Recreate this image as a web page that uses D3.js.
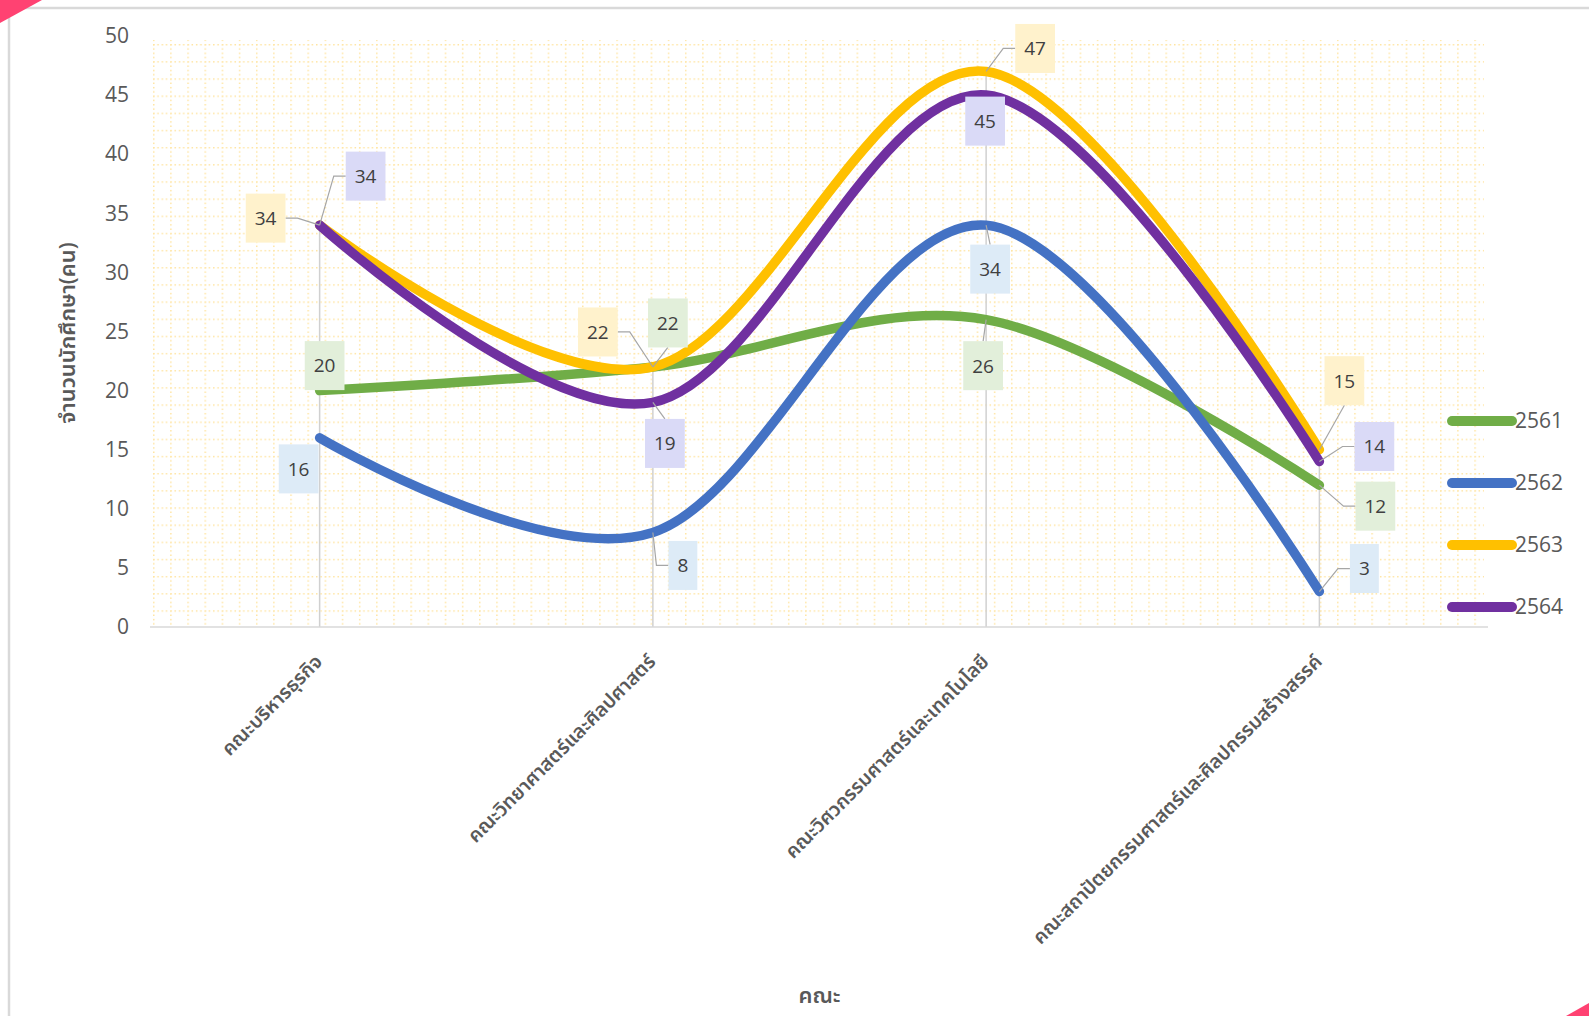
<!DOCTYPE html>
<html>
<head>
<meta charset="utf-8">
<script src="https://cdn.jsdelivr.net/npm/d3@7"></script>
<style>
  html, body { margin: 0; padding: 0; background: #fff; }
  svg { display: block; }
  text { font-family: 'Open Sans', 'Noto Sans', 'Noto Sans Thai', 'DejaVu Sans', sans-serif; }
</style>
</head>
<body>
<svg id="chart" width="1589" height="1016"></svg>
<script>
// ---------- data ----------
const categories = [
  "คณะบริหารธุรกิจ",
  "คณะวิทยาศาสตร์และศิลปศาสตร์",
  "คณะวิศวกรรมศาสตร์และเทคโนโลยี",
  "คณะสถาปัตยกรรมศาสตร์และศิลปกรรมสร้างสรรค์"
];
const seriesNames = ["2561", "2562", "2563", "2564"];
const values2561 = [20, 22, 26, 12];
const values2562 = [16, 8, 34, 3];
const values2563 = [34, 22, 47, 15];
const values2564 = [34, 19, 45, 14];
const yTicks = [0, 5, 10, 15, 20, 25, 30, 35, 40, 45, 50];
const yTitle = "จำนวนนักศึกษา(คน)";
const xTitle = "คณะ";

// ---------- styles / layout ----------
const seriesColors = ["#70AD47", "#4472C4", "#FFC000", "#7030A0"];
const labelFills = ["#E2EFDA", "#DDEBF7", "#FFF2CC", "#DADAF7"];
// data-label box centre offsets (px) relative to each point
const labelOffsets = [
  [[5, -25], [15, -44], [-3, 46], [56, 21]],
  [[-21, 31], [30, 33], [4, 44], [45, -23]],
  [[-54, -7], [-55, -35], [49, -23], [25, -69]],
  [[46, -49], [12, 41], [-1, 26], [55, -15]]
];

const seriesValues = [values2561, values2562, values2563, values2564];
const series = seriesNames.map((n, i) => ({
  name: n, color: seriesColors[i], fill: labelFills[i], offs: labelOffsets[i],
  values: seriesValues[i]
}));

const svg = d3.select("#chart");
const plot = { left: 153, right: 1486, top: 36, bottom: 627 };

const x = d3.scaleBand().domain(categories).range([plot.left, plot.right]);
const cx = c => x(c) + x.bandwidth() / 2;
const y = d3.scaleLinear().domain([0, 50]).range([plot.bottom, plot.top]);

// background
svg.append("rect").attr("width", 1589).attr("height", 1016).attr("fill", "#fff");

// outer frame
svg.append("rect").attr("x", 9).attr("y", 8).attr("width", 1700).attr("height", 1200)
  .attr("fill", "none").attr("stroke", "#d9d9d9").attr("stroke-width", 2.5);

// corner decorations
svg.append("path").attr("d", "M0,0 L42,0 L0,23 Z").attr("fill", "#FF4272");
svg.append("path").attr("d", "M1589,1003 L1589,1016 L1566,1016 Z").attr("fill", "#FF4272");

// dotted grid pattern fill of plot area
const defs = svg.append("defs");
const T = 17.16;
const pat = defs.append("pattern").attr("id", "dotgrid")
  .attr("patternUnits", "userSpaceOnUse")
  .attr("x", 153).attr("y", 44).attr("width", T).attr("height", T);
pat.append("line").attr("x1", 0).attr("y1", 0.75).attr("x2", T).attr("y2", 0.75)
  .attr("stroke", "#FFE4A0").attr("stroke-width", 1.5).attr("stroke-dasharray", "1.5 2.79");
pat.append("line").attr("x1", 0.75).attr("y1", 0).attr("x2", 0.75).attr("y2", T)
  .attr("stroke", "#FFE4A0").attr("stroke-width", 1.5).attr("stroke-dasharray", "1.5 2.79");
svg.append("rect").attr("x", 151).attr("y", 40).attr("width", 1484 - 151).attr("height", plot.bottom - 40)
  .attr("fill", "url(#dotgrid)");

// y axis (labels only)
const yAxis = d3.axisLeft(y).tickValues(yTicks).tickSize(0).tickPadding(24);
const gy = svg.append("g").attr("transform", `translate(${plot.left},0)`).call(yAxis);
gy.select(".domain").remove();
gy.selectAll("text").attr("fill", "#595959").style("font-size", "21px")
  .style("font-family", "'Open Sans','Noto Sans',sans-serif");

// drop lines (from highest point to axis)
svg.append("g").selectAll("line").data(categories).join("line")
  .attr("x1", d => cx(d)).attr("x2", d => cx(d))
  .attr("y1", (d, i) => y(d3.max(series, s => s.values[i])))
  .attr("y2", plot.bottom)
  .attr("stroke", "#d0d0d0").attr("stroke-width", 1.5);

// x axis line
svg.append("line").attr("x1", 150).attr("x2", 1488).attr("y1", plot.bottom).attr("y2", plot.bottom)
  .attr("stroke", "#d9d9d9").attr("stroke-width", 1.5);

// x axis labels
const xAxis = d3.axisBottom(x).tickSize(0);
const gx = svg.append("g").attr("transform", `translate(0,${plot.bottom})`).call(xAxis);
gx.select(".domain").remove();
gx.selectAll("text")
  .attr("x", 0).attr("y", 0).attr("dy", "0.35em")
  .attr("text-anchor", "end")
  .attr("transform", "translate(-1,31) rotate(-45)")
  .attr("fill", "#5a5a5a").style("font-size", "19.5px").style("font-weight", "600");

// axis titles
svg.append("text").attr("transform", "translate(67,333) rotate(-90)")
  .attr("text-anchor", "middle").attr("dy", "0.35em")
  .attr("fill", "#595959").style("font-size", "22px").style("font-weight", "600")
  .text(yTitle);
svg.append("text").attr("x", (plot.left + plot.right) / 2).attr("y", 995)
  .attr("text-anchor", "middle").attr("dy", "0.35em")
  .attr("fill", "#595959").style("font-size", "22px").style("font-weight", "600")
  .text(xTitle);

// series lines
const line = d3.line()
  .x((d, i) => cx(categories[i]))
  .y(d => y(d))
  .curve(d3.curveCardinal.tension(0));

svg.append("g").selectAll("path").data(series).join("path")
  .attr("d", s => line(s.values))
  .attr("fill", "none")
  .attr("stroke", s => s.color)
  .attr("stroke-width", 9.5)
  .attr("stroke-linecap", "round")
  .attr("stroke-linejoin", "round");

// data labels
const labelG = svg.append("g");
const leaderG = labelG.append("g");
const boxG = labelG.append("g");
const BH = 49;
series.forEach(s => {
  s.values.forEach((v, i) => {
    const px = cx(categories[i]), py = y(v);
    const bx = px + s.offs[i][0], by = py + s.offs[i][1];
    const g = boxG.append("g");
    const t = g.append("text").attr("x", bx).attr("y", by).attr("dy", "0.36em")
      .attr("text-anchor", "middle").attr("fill", "#404040")
      .style("font-size", "19px").style("font-family", "'Open Sans','Noto Sans',sans-serif")
      .text(v);
    const tw = t.node().getComputedTextLength();
    const BW = tw + 18;
    g.insert("rect", "text").attr("x", bx - BW / 2).attr("y", by - BH / 2)
      .attr("width", BW).attr("height", BH).attr("fill", s.fill);
    const x0 = bx - BW / 2, x1 = bx + BW / 2, y0 = by - BH / 2, y1 = by + BH / 2;
    const ox = px < x0 ? x0 - px : (px > x1 ? px - x1 : 0);
    const oy = py < y0 ? y0 - py : (py > y1 ? py - y1 : 0);
    if (Math.hypot(ox, oy) < 15) return;
    let pts;
    if (ox >= oy) {
      if (px < x0) pts = [[x0, by], [x0 - 12, by], [px, py]];
      else pts = [[x1, by], [x1 + 12, by], [px, py]];
    } else {
      if (py < y0) pts = [[bx, y0], [px, py]];
      else pts = [[bx, y1], [px, py]];
    }
    leaderG.append("path").attr("d", d3.line()(pts))
      .attr("fill", "none").attr("stroke", "#a6a6a6").attr("stroke-width", 1.2);
  });
});

// legend
const legendY = [421, 483, 545, 607];
const lg = svg.append("g").selectAll("g").data(series).join("g")
  .attr("transform", (s, i) => `translate(0,${legendY[i]})`);
lg.append("line").attr("x1", 1452).attr("x2", 1512).attr("y1", 0).attr("y2", 0)
  .attr("stroke", s => s.color).attr("stroke-width", 10).attr("stroke-linecap", "round");
lg.append("text").attr("x", 1515).attr("y", 0).attr("dy", "0.35em")
  .attr("fill", "#595959").style("font-size", "21px")
  .style("font-family", "'Open Sans','Noto Sans',sans-serif")
  .text(s => s.name);
</script>
</body>
</html>
